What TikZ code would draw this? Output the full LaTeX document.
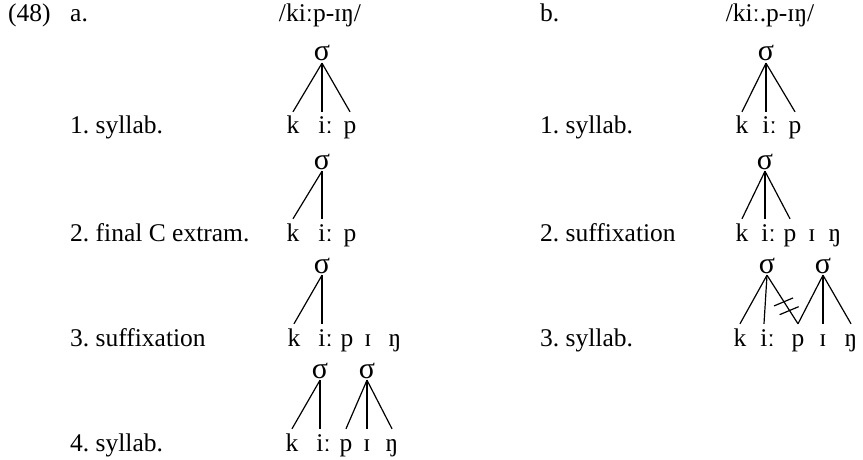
\documentclass[tikz,border=0pt]{standalone}
\usepackage{fontspec}
\setmainfont{Liberation Serif}
\usetikzlibrary{calc}
\frenchspacing

\begin{document}
\begin{tikzpicture}[
  x=1pt, y=-1pt,
  every node/.style={font=\fontsize{25.5}{30}\selectfont},
  lbl/.style={anchor=base west, inner sep=0pt},
  ttl/.style={anchor=base, inner sep=0pt},
  seg/.style={anchor=base, inner xsep=0pt, inner ysep=4pt, text height=18pt, text depth=0pt},
  syl/.style={anchor=base, inner xsep=0pt, inner ysep=2pt, text depth=0pt,
    font=\fontsize{30}{34}\selectfont},
  assoc/.style={line width=1.2pt},
  cut/.style={line width=1.2pt}
]
\useasboundingbox (0,0) rectangle (863,460);

% headings
\node[lbl] (num) at (8,22) {(48)};
\node[lbl] (a) at (70,22) {a.};
\node[ttl] (forma) at (320,22) {/kiːp-ɪŋ/};
\node[lbl] (b) at (540,22) {b.};
\node[ttl] (formb) at (770,22) {/kiː.p-ɪŋ/};

% step labels
\foreach \n/\x/\y/\t in {
  a1/70/134/1. syllab.,
  a2/70/241/2. final C extram.,
  a3/70/346/3. suffixation,
  a4/70/451/4. syllab.,
  b1/540/134/1. syllab.,
  b2/540/241/2. suffixation,
  b3/540/346/3. syllab.
}{
  \node[lbl] (\n) at (\x,\y) {\t};
}

% (a) 1
\node[syl] (sa1) at (322,61) {σ};
\node[seg] (ka1) at (293,134) {k};
\node[seg] (ia1) at (322,134) {i\rlap{ː}};
\node[seg] (pa1) at (350,134) {p};
\draw[assoc] (sa1.south) -- (ka1.north);
\draw[assoc] (sa1.south) -- (ia1.north);
\draw[assoc] (sa1.south) -- (pa1.north);

% (a) 2
\node[syl] (sa2) at (322,169) {σ};
\node[seg] (ka2) at (293,241) {k};
\node[seg] (ia2) at (322,241) {i\rlap{ː}};
\node[seg] (pa2) at (350,241) {p};
\draw[assoc] (sa2.south) -- (ka2.north);
\draw[assoc] (sa2.south) -- (ia2.north);

% (a) 3
\node[syl] (sa3) at (322,273) {σ};
\node[seg] (ka3) at (294,346) {k};
\node[seg] (ia3) at (322,346) {i\rlap{ː}};
\node[seg] (pa3) at (347,346) {p};
\node[seg] (Ia3) at (368,346) {ɪ};
\node[seg] (na3) at (395,346) {ŋ};
\draw[assoc] (sa3.south) -- (ka3.north);
\draw[assoc] (sa3.south) -- (ia3.north);

% (a) 4
\node[syl] (sa4) at (320,378) {σ};
\node[syl] (sb4) at (367,378) {σ};
\node[seg] (ka4) at (292,451) {k};
\node[seg] (ia4) at (320,451) {i\rlap{ː}};
\node[seg] (pa4) at (346,451) {p};
\node[seg] (Ia4) at (367,451) {ɪ};
\node[seg] (na4) at (392,451) {ŋ};
\draw[assoc] (sa4.south) -- (ka4.north);
\draw[assoc] (sa4.south) -- (ia4.north);
\draw[assoc] (sb4.south) -- (pa4.north);
\draw[assoc] (sb4.south) -- (Ia4.north);
\draw[assoc] (sb4.south) -- (na4.north);

% (b) 1
\node[syl] (sc1) at (766,61) {σ};
\node[seg] (kc1) at (742,134) {k};
\node[seg] (ic1) at (766,134) {i\rlap{ː}};
\node[seg] (pc1) at (795,134) {p};
\draw[assoc] (sc1.south) -- (kc1.north);
\draw[assoc] (sc1.south) -- (ic1.north);
\draw[assoc] (sc1.south) -- (pc1.north);

% (b) 2
\node[syl] (sc2) at (765,169) {σ};
\node[seg] (kc2) at (742,241) {k};
\node[seg] (ic2) at (765,241) {i\rlap{ː}};
\node[seg] (pc2) at (790,241) {p};
\node[seg] (Ic2) at (812,241) {ɪ};
\node[seg] (nc2) at (835,241) {ŋ};
\draw[assoc] (sc2.south) -- (kc2.north);
\draw[assoc] (sc2.south) -- (ic2.north);
\draw[assoc] (sc2.south) -- (pc2.north);

% (b) 3
\node[syl] (sc3) at (767,273) {σ};
\node[syl] (sd3) at (823,273) {σ};
\node[seg] (kc3) at (740,346) {k};
\node[seg] (ic3) at (764,346) {i\rlap{ː}};
\node[seg] (pc3) at (798,346) {p};
\node[seg] (Ic3) at (823,346) {ɪ};
\node[seg] (nc3) at (851,346) {ŋ};
\draw[assoc] (sc3.south) -- (kc3.north);
\draw[assoc] (sc3.south) -- (ic3.north);
\draw[assoc] (sc3.south) -- (pc3.north);
\draw[assoc] (sd3.south) -- (pc3.north);
\draw[assoc] (sd3.south) -- (Ic3.north);
\draw[assoc] (sd3.south) -- (nc3.north);

% delinking bars
\path (sc3.south) -- (pc3.north)
  coordinate[pos=.55] (cutA) coordinate[pos=.73] (cutB);
\draw[cut] ($(cutA)+(-10,4)$) -- ($(cutA)+(9,-4)$);
\draw[cut] ($(cutB)+(-10,4)$) -- ($(cutB)+(9,-4)$);

\end{tikzpicture}
\end{document}
